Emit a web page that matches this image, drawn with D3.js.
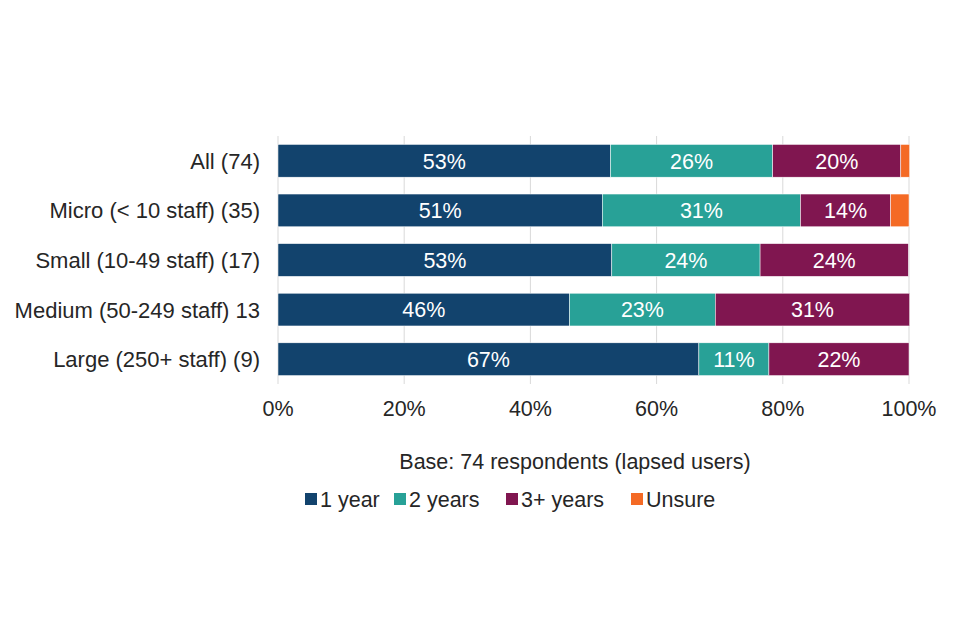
<!DOCTYPE html>
<html>
<head>
<meta charset="utf-8">
<script src="https://cdn.jsdelivr.net/npm/d3@7"></script>
<style>
  body { margin: 0; background: #fff; }
  text { font-family: "Liberation Sans", Arial, sans-serif; }
</style>
</head>
<body>
<svg id="chart" width="960" height="640"></svg>
<script>
// categories and series (percent of respondents)
var categories = ['All (74)', 'Micro (< 10 staff) (35)', 'Small (10-49 staff) (17)', 'Medium (50-249 staff) 13', 'Large (250+ staff) (9)'];
var seriesNames = ['1 year', '2 years', '3+ years', 'Unsure'];
var oneYear   = [52.7, 51.4, 52.9, 46.2, 66.7];
var twoYears  = [25.7, 31.4, 23.5, 23.1, 11.1];
var threeYears = [20.3, 14.3, 23.5, 30.8, 22.2];
var unsure    = [1.4, 2.9, 0, 0, 0];
var xTicks = [0, 20, 40, 60, 80, 100];
var colors = ['#12436D', '#28A197', '#801650', '#F46A25'];

var rows = categories.map(function(c, i) {
  return { cat: c, '1 year': oneYear[i], '2 years': twoYears[i], '3+ years': threeYears[i], 'Unsure': unsure[i] };
});

var fs = 21.5;
var margin = {left: 278, top: 136, right: 51},
    width = 960 - margin.left - margin.right,
    height = 248;

var svg = d3.select('#chart');
var g = svg.append('g').attr('transform', 'translate(' + margin.left + ',' + margin.top + ')');

var x = d3.scaleLinear().domain([0, 100]).range([0, width]);
var y = d3.scaleBand().domain(categories).range([0, height]).paddingInner(0.34).paddingOuter(0.17);

// gridlines
g.selectAll('.grid').data(xTicks).enter().append('line')
  .attr('x1', function(d) { return x(d); }).attr('x2', function(d) { return x(d); })
  .attr('y1', 0).attr('y2', height)
  .attr('stroke', '#d9d9d9').attr('stroke-width', 1);

var stack = d3.stack().keys(seriesNames)(rows);

var layers = g.selectAll('.layer').data(stack).enter().append('g')
  .attr('fill', function(d, i) { return colors[i]; });

layers.selectAll('rect').data(function(d) { return d; }).enter().append('rect')
  .attr('x', function(d) { return x(d[0]); })
  .attr('width', function(d) { return x(d[1]) - x(d[0]); })
  .attr('y', function(d) { return y(d.data.cat); })
  .attr('height', y.bandwidth())
  .attr('stroke', '#fff').attr('stroke-width', 0.5);

// value labels (skip tiny Unsure segments)
layers.filter(function(d, i) { return i < 3; })
  .selectAll('text').data(function(d) { return d; }).enter().append('text')
  .attr('x', function(d) { return (x(d[0]) + x(d[1])) / 2; })
  .attr('y', function(d) { return y(d.data.cat) + y.bandwidth() / 2; })
  .attr('dy', '0.36em')
  .attr('text-anchor', 'middle')
  .attr('fill', '#fff')
  .attr('font-size', fs)
  .text(function(d) { return d3.format('.0f')(d[1] - d[0]) + '%'; });

// y axis labels
g.selectAll('.cat').data(categories).enter().append('text')
  .attr('x', -18)
  .attr('y', function(d) { return y(d) + y.bandwidth() / 2; })
  .attr('dy', '0.36em')
  .attr('text-anchor', 'end')
  .attr('font-size', 22)
  .attr('fill', '#262626')
  .text(function(d) { return d; });

// x tick labels
g.selectAll('.xt').data(xTicks).enter().append('text')
  .attr('x', function(d) { return x(d); })
  .attr('y', height + 32)
  .attr('text-anchor', 'middle')
  .attr('font-size', fs)
  .attr('fill', '#262626')
  .text(function(d) { return d + '%'; });

// base note
svg.append('text')
  .attr('x', 575).attr('y', 469)
  .attr('text-anchor', 'middle')
  .attr('font-size', fs)
  .attr('fill', '#262626')
  .text('Base: 74 respondents (lapsed users)');

// legend
var legendX = [305, 394, 506, 631];
var lg = svg.selectAll('.lg').data(seriesNames).enter().append('g')
  .attr('transform', function(d, i) { return 'translate(' + legendX[i] + ',499)'; });
lg.append('rect').attr('x', 0).attr('y', -6).attr('width', 12).attr('height', 12)
  .attr('fill', function(d, i) { return colors[i]; });
lg.append('text').attr('x', 15).attr('dy', '0.36em')
  .attr('font-size', fs).attr('fill', '#262626')
  .text(function(d) { return d; });
</script>
</body>
</html>
